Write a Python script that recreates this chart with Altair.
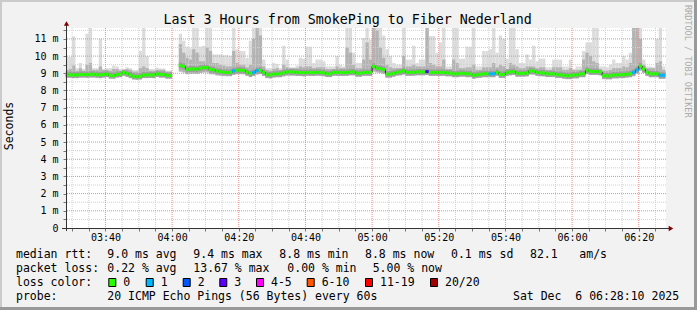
import altair as alt
import pandas as pd

MONO = "DejaVu Sans Mono"

# one step = one minute; minutes counted from 03:00, first step starts 03:28
FIRST_MINUTE = 28
X_DOMAIN = [28.17, 208.17]          # 03:28:10 .. 06:28:10
Y_DOMAIN = [0, 11.635]              # milliseconds

# median rtt (ms) per step, None = no data
MEDIAN = [
    8.92, 8.92, 8.90, 8.90, 8.93, 8.93, 8.92, 8.94, 8.94, 8.92,
    8.90, 8.93, 8.95, 8.87, 8.86, 8.93, 8.95, 9.05, 8.98, 8.90,
    8.82, 8.80, 8.82, 8.90, 8.90, 8.91, 8.90, 8.97, 8.93, 8.93,
    8.87, 8.87, None, None, 9.45, 9.40, 9.22, 9.25, 9.25, 9.24,
    9.30, 9.33, 9.33, 9.22, 9.20, 9.12, 9.10, 9.06, 9.05, 9.05,
    9.14, 9.18, 9.18, 9.17, 9.06, 8.98, 9.05, 9.16, 9.18, 9.05,
    8.92, 8.90, 8.95, 8.97, 8.97, 9.03, 9.08, 9.08, 9.08, 9.05,
    9.05, 9.03, 9.05, 9.05, 9.04, 9.06, 9.05, 9.03, 8.97, 8.97,
    9.05, 9.05, 9.05, 9.04, 9.05, 9.08, 9.08, 9.00, 9.00, 9.05,
    9.05, 9.05, 9.40, 9.30, 9.28, 9.22, 8.95, 8.95, 9.00, 9.06,
    9.08, 9.14, 9.05, 9.05, 9.06, 9.08, 9.08, 9.08, 9.10, 9.05,
    9.05, 9.05, 9.05, 9.05, 9.02, 9.02, 8.97, 8.97, 9.00, 9.00,
    8.97, 8.97, 8.88, 8.92, 8.94, 8.97, 8.97, 8.97, 8.97, 9.05,
    8.93, 8.93, 9.05, 9.08, 9.10, 9.00, 9.00, 9.00, 9.02, 9.15,
    9.12, 9.05, 9.03, 9.02, 8.97, 8.97, 8.97, 8.92, 8.92, 8.88,
    8.86, 8.86, 8.90, 8.90, 8.97, 8.97, 9.18, 9.10, 9.10, 9.10,
    9.08, 8.86, 8.85, 8.85, 8.90, 8.90, 8.92, 8.92, 8.95, 8.97,
    9.05, 9.20, 9.42, 9.25, 9.05, 8.97, 8.97, 8.97, 8.88, 8.88,
]

# slowest ping of the step (top of the light smoke)
HI = [
    9.95, 9.95, 11.15, 9.30, 9.60, 9.25, 11.30, 12.0, 9.30, 9.30,
    11.0, 9.25, 9.30, 9.30, 9.45, 9.40, 9.25, 9.20, 9.35, 9.30,
    9.20, 9.20, 10.30, 12.0, 10.00, 9.25, 9.25, 9.33, 9.28, 9.28,
    9.15, 9.15, None, None, 11.30, 10.90, 10.55, 10.45, 12.0, 12.0,
    10.55, 10.60, 12.0, 12.0, 10.10, 10.10, 10.10, 10.05, 10.05, 10.00,
    12.0, 10.40, 10.30, 10.30, 9.90, 10.90, 12.0, 12.0, 12.0, 9.80,
    9.30, 9.30, 9.60, 9.55, 9.30, 10.60, 9.80, 9.35, 9.35, 9.45,
    9.90, 9.85, 10.55, 10.55, 9.60, 9.80, 9.80, 9.70, 9.40, 9.40,
    9.40, 10.00, 9.50, 9.40, 12.0, 12.0, 10.20, 9.60, 9.60, 11.05,
    12.0, 10.95, 12.0, 12.0, 12.0, 11.20, 10.40, 10.00, 9.60, 9.50,
    9.50, 12.0, 9.80, 9.80, 10.60, 9.60, 9.80, 9.80, 12.0, 11.17,
    11.17, 10.20, 10.80, 12.0, 9.40, 9.40, 12.0, 12.0, 9.85, 9.85,
    10.55, 10.55, 12.0, 9.40, 9.40, 10.30, 10.30, 10.40, 12.0, 10.20,
    11.20, 11.00, 9.85, 12.0, 12.0, 10.40, 9.60, 9.60, 10.10, 9.80,
    10.60, 9.70, 9.85, 9.85, 9.35, 9.35, 9.80, 9.80, 9.80, 9.40,
    9.40, 9.80, 9.25, 9.40, 9.40, 10.30, 10.80, 10.80, 12.0, 12.0,
    9.40, 9.40, 9.35, 9.50, 9.80, 9.60, 9.60, 10.00, 9.80, 10.20,
    12.0, 12.0, 12.0, 9.80, 9.40, 9.40, 9.35, 11.00, 12.0, 9.40,
]

# top of the denser (darker) smoke
MID = [
    9.20, 9.25, 9.45, 9.15, 9.30, 9.15, 9.50, 9.60, 9.20, 9.20,
    9.40, 9.20, 9.20, 9.15, 9.25, 9.25, 9.15, 9.20, 9.25, 9.20,
    9.10, 9.10, 9.30, 9.40, 9.30, 9.15, 9.15, 9.20, 9.20, 9.20,
    9.10, 9.10, None, None, 10.70, 10.20, 9.90, 9.80, 10.40, 10.20,
    9.70, 9.70, 10.50, 10.30, 9.60, 9.60, 9.50, 9.45, 9.40, 9.40,
    10.30, 9.60, 9.50, 9.50, 9.35, 9.50, 11.00, 12.0, 11.20, 9.40,
    9.20, 9.15, 9.25, 9.30, 9.20, 9.50, 9.35, 9.30, 9.30, 9.30,
    9.40, 9.35, 9.40, 9.40, 9.30, 9.35, 9.35, 9.35, 9.25, 9.25,
    9.25, 9.40, 9.30, 9.30, 10.50, 10.20, 9.50, 9.30, 9.30, 9.80,
    10.80, 9.80, 12.0, 11.50, 10.50, 9.90, 9.50, 9.35, 9.30, 9.30,
    9.30, 10.00, 9.40, 9.40, 9.50, 9.40, 9.40, 9.40, 12.0, 9.60,
    9.50, 9.40, 9.40, 9.80, 9.25, 9.25, 9.80, 9.60, 9.30, 9.30,
    9.35, 9.35, 9.50, 9.20, 9.20, 9.35, 9.35, 9.35, 9.60, 9.35,
    9.50, 9.40, 9.25, 9.60, 9.50, 9.40, 9.30, 9.30, 9.40, 9.40,
    9.40, 9.30, 9.35, 9.35, 9.20, 9.20, 9.35, 9.35, 9.35, 9.20,
    9.20, 9.30, 9.20, 9.20, 9.20, 9.80, 10.20, 10.00, 9.70, 9.60,
    9.15, 9.15, 9.15, 9.20, 9.30, 9.30, 9.30, 9.40, 9.35, 9.60,
    12.0, 12.0, 11.00, 9.50, 9.30, 9.30, 9.30, 9.60, 9.70, 9.20,
]

# fastest ping of the step (bottom of the smoke)
LO = [
    8.75, 8.75, 8.72, 8.72, 8.76, 8.76, 8.74, 8.76, 8.76, 8.74,
    8.72, 8.76, 8.78, 8.70, 8.70, 8.76, 8.78, 8.86, 8.80, 8.72,
    8.65, 8.64, 8.65, 8.72, 8.72, 8.74, 8.72, 8.80, 8.76, 8.76,
    8.70, 8.70, None, None, 9.10, 9.05, 8.95, 8.98, 8.98, 8.97,
    9.02, 9.05, 9.05, 8.95, 8.94, 8.88, 8.86, 8.84, 8.83, 8.83,
    8.90, 8.95, 8.95, 8.94, 8.85, 8.78, 8.84, 8.93, 8.95, 8.84,
    8.72, 8.70, 8.75, 8.77, 8.77, 8.82, 8.86, 8.86, 8.86, 8.84,
    8.84, 8.82, 8.85, 8.85, 8.84, 8.86, 8.85, 8.83, 8.78, 8.78,
    8.85, 8.85, 8.85, 8.84, 8.85, 8.88, 8.88, 8.80, 8.80, 8.85,
    8.85, 8.85, 9.10, 9.05, 9.02, 8.98, 8.74, 8.74, 8.80, 8.86,
    8.88, 8.92, 8.85, 8.85, 8.86, 8.88, 8.88, 8.88, 8.90, 8.85,
    8.85, 8.85, 8.85, 8.85, 8.82, 8.82, 8.77, 8.77, 8.80, 8.80,
    8.77, 8.77, 8.68, 8.72, 8.74, 8.77, 8.77, 8.77, 8.77, 8.85,
    8.73, 8.73, 8.85, 8.88, 8.90, 8.80, 8.80, 8.80, 8.82, 8.92,
    8.92, 8.85, 8.83, 8.82, 8.78, 8.78, 8.78, 8.73, 8.73, 8.69,
    8.66, 8.66, 8.70, 8.70, 8.77, 8.77, 8.96, 8.90, 8.90, 8.90,
    8.88, 8.66, 8.65, 8.65, 8.70, 8.70, 8.72, 8.72, 8.75, 8.77,
    8.83, 8.98, 9.15, 9.02, 8.84, 8.77, 8.77, 8.77, 8.68, 8.68,
]

# steps with lost pings (step index -> loss class)
LOSS_STEPS = {50: "1", 56: "1", 57: "1", 108: "3", 127: "1", 128: "1",
              170: "1", 171: "1", 178: "1", 179: "1"}

LOSS_CATS = ["0", "1", "2", "3", "4-5", "6-10", "11-19", "20/20"]
LOSS_COLORS = ["#26ff00", "#00b8ff", "#0059ff", "#5e00ff", "#ff00ff",
               "#ff5500", "#ff0000", "#a10000"]

X_TICKS = list(range(30, 209, 5))
X_MAJOR = [40, 60, 80, 100, 120, 140, 160, 180, 200]
X_MINOR = [v for v in X_TICKS if v not in X_MAJOR]
Y_TICKS = [i / 2 for i in range(0, 24)]
Y_MAJOR = [1, 2, 3, 4, 5, 6, 7, 8, 9, 10, 11]
Y_MINOR = [v for v in Y_TICKS if v > 0 and v not in Y_MAJOR]

rows = []
for i, m in enumerate(MEDIAN):
    if m is None:
        continue
    rows.append(dict(t0=FIRST_MINUTE + i, t1=FIRST_MINUTE + i + 1,
                     tm=FIRST_MINUTE + i + 0.5, med=m, hi=HI[i], mid=MID[i],
                     lo=LO[i], loss=LOSS_STEPS.get(i, "0"),
                     seg=0 if i < 32 else 1))
df = pd.DataFrame(rows)

XS = alt.Scale(domain=X_DOMAIN, nice=False, zero=False)
YS = alt.Scale(domain=Y_DOMAIN, nice=False, zero=True, clamp=True)

X_AXIS = alt.Axis(
    values=X_TICKS, title=None, grid=False, domain=False, tickSize=3,
    tickColor="#777777", labelFont=MONO, labelFontSize=10, labelColor="#000000",
    labelPadding=1, labelOverlap=False, labelFlush=False,
    labelExpr="datum.value % 20 === 0 ? ('0' + (3 + floor(datum.value / 60)) + ':' + "
              "(datum.value % 60 < 10 ? '0' : '') + (datum.value % 60)) : ''")
Y_AXIS = alt.Axis(
    values=Y_TICKS, title=None, grid=False, domain=False, tickSize=3,
    tickColor="#777777", labelFont=MONO, labelFontSize=10, labelColor="#000000",
    labelPadding=5, labelOverlap=False,
    labelExpr="datum.value % 1 === 0 ? (datum.value === 0 ? '0' : datum.value + ' m') : ''")


def X(f):
    return alt.X(f, type="quantitative", scale=XS, axis=X_AXIS)


def Y(f):
    return alt.Y(f, type="quantitative", scale=YS, axis=Y_AXIS)


base = alt.Chart(df)
layers = []

layers.append(base.mark_rect(color="#dcdcdc", clip=True).encode(
    x=X("t0"), x2="t1", y=Y("lo"), y2="hi"))
layers.append(base.mark_rect(color="#b4b4b4", clip=True).encode(
    x=X("t0"), x2="t1", y=Y("lo"), y2="mid"))

# grid
layers.append(alt.Chart(pd.DataFrame({"g": X_MINOR})).mark_rule(
    color="#cfcfcf", strokeDash=[1, 1], strokeWidth=1).encode(x=X("g")))
layers.append(alt.Chart(pd.DataFrame({"g": Y_MINOR})).mark_rule(
    color="#cfcfcf", strokeDash=[1, 1], strokeWidth=1).encode(y=Y("g")))
layers.append(alt.Chart(pd.DataFrame({"g": X_MAJOR})).mark_rule(
    color="#f08a8a", strokeDash=[1, 1], strokeWidth=1).encode(x=X("g")))
layers.append(alt.Chart(pd.DataFrame({"g": Y_MAJOR})).mark_rule(
    color="#f08a8a", strokeDash=[1, 1], strokeWidth=1).encode(y=Y("g")))

# dense smoke close to the median
layers.append(base.mark_rule(color="#8a8a8a", strokeWidth=6, opacity=0.55).encode(
    x=X("t0"), x2="t1", y=Y("med")))
# median step line
layers.append(base.mark_line(interpolate="step", color="#202020", strokeWidth=1).encode(
    x=X("tm"), y=Y("med"), detail="seg:N"))
# median coloured by loss
layers.append(base.mark_rule(strokeWidth=3).encode(
    x=X("t0"), x2="t1", y=Y("med"),
    color=alt.Color("loss:N", scale=alt.Scale(domain=LOSS_CATS, range=LOSS_COLORS),
                    legend=None)))

one = pd.DataFrame({"k": [0]})

# axis lines and arrows
layers.append(alt.Chart(one).mark_rule(color="#333333", strokeWidth=1).encode(
    x=alt.value(0.5), y=alt.value(-4), y2=alt.value(203)))
layers.append(alt.Chart(one).mark_rule(color="#333333", strokeWidth=1).encode(
    x=alt.value(-4), x2=alt.value(604), y=alt.value(200.5)))
layers.append(alt.Chart(one).mark_point(shape="triangle-up", filled=True, opacity=1,
                                        color="#800000", size=28).encode(
    x=alt.value(0.5), y=alt.value(-4.5)))
layers.append(alt.Chart(one).mark_point(shape="triangle-right", filled=True, opacity=1,
                                        color="#800000", size=28).encode(
    x=alt.value(605), y=alt.value(200.5)))

# frame shades
layers.append(alt.Chart(one).mark_rule(color="#cbcbcb", strokeWidth=2).encode(
    x=alt.value(-66), x2=alt.value(631), y=alt.value(-27)))
layers.append(alt.Chart(one).mark_rule(color="#cbcbcb", strokeWidth=2).encode(
    x=alt.value(-65), y=alt.value(-28), y2=alt.value(282)))
layers.append(alt.Chart(one).mark_rule(color="#999999", strokeWidth=3).encode(
    x=alt.value(-66), x2=alt.value(631), y=alt.value(280.5)))
layers.append(alt.Chart(one).mark_rule(color="#999999", strokeWidth=3).encode(
    x=alt.value(629.5), y=alt.value(-28), y2=alt.value(282)))


def label(txt, x, y, size=11.5, align="left", angle=0, color="#000000",
          baseline="alphabetic"):
    return alt.Chart(pd.DataFrame({"t": [txt]})).mark_text(
        align=align, baseline=baseline, font=MONO, fontSize=size, angle=angle,
        color=color).encode(text="t:N", x=alt.value(x), y=alt.value(y))


layers.append(label("Last 3 Hours from SmokePing to Fiber Nederland", 281.7, -4,
                    size=13.3, align="center"))
layers.append(label("Seconds", -56, 98, size=11.5, align="center", angle=270,
                    baseline="middle"))
layers.append(label("RRDTOOL / TOBI OETIKER", 622, -23, size=8.5, angle=90,
                    color="#aaaaaa", baseline="middle"))

LEGEND_LINES = [
    (230, [("median rtt:", -50), ("9.0 ms avg", 41.3), ("9.4 ms max", 127.3),
           ("8.8 ms min", 213.3), ("8.8 ms now", 299), ("0.1 ms sd", 385),
           ("82.1", 464), ("am/s", 513.3)]),
    (244, [("packet loss:", -50), ("0.22 % avg", 41.3), ("13.67 % max", 127.3),
           ("0.00 % min", 221.3), ("5.00 % now", 306.7)]),
    (258, [("loss color:", -50)]),
    (271.5, [("probe:", -50), ("20 ICMP Echo Pings (56 Bytes) every 60s", 41.3),
             ("Sat Dec\u00a0\u00a06 06:28:10 2025", 447)]),
]
for yy, items in LEGEND_LINES:
    for txt, xx in items:
        layers.append(label(txt, xx, yy))

BOX_LEFT = [42.3, 79.7, 116.7, 153.3, 190, 240.7, 299, 364]
for cat, col, bx in zip(LOSS_CATS, LOSS_COLORS, BOX_LEFT):
    layers.append(alt.Chart(one).mark_rect(stroke="#000000", strokeWidth=1).encode(
        x=alt.value(bx + 0.5), x2=alt.value(bx + 7.5), y=alt.value(250.5),
        y2=alt.value(258.5), color=alt.value(col)))
    layers.append(label(cat, bx + 15, 258))

chart = alt.layer(*layers).properties(
    width=600, height=200,
    autosize=alt.AutoSizeParams(type="none"),
    padding={"left": 66, "top": 28, "right": 31, "bottom": 82},
).configure(background="#f2f2f2").configure_view(stroke=None, fill="white")

chart.save("out.html", embed_options={"renderer": "svg", "actions": False})
